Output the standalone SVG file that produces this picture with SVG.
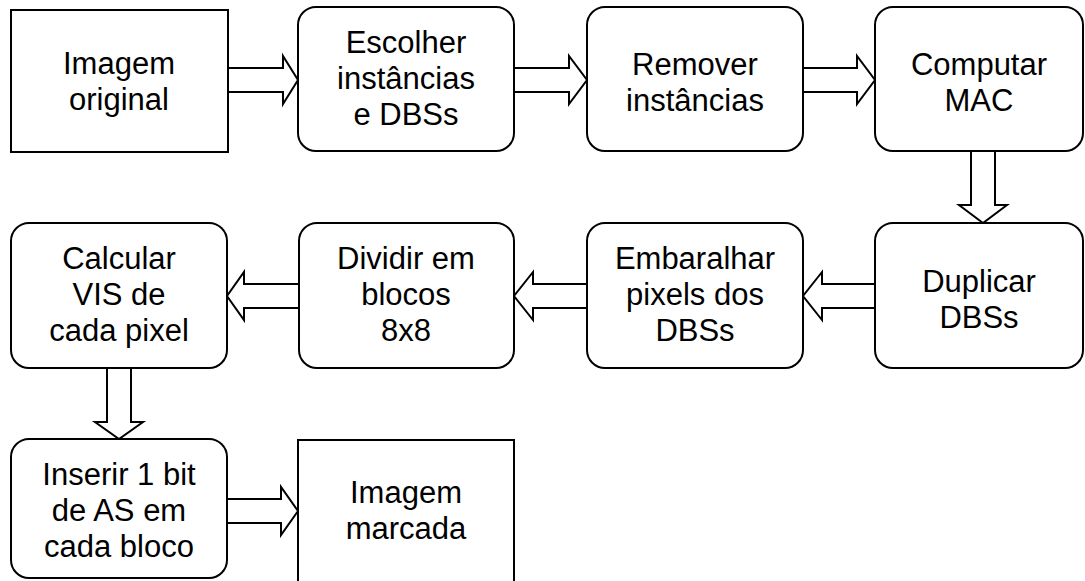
<svg xmlns="http://www.w3.org/2000/svg" width="1085" height="581" viewBox="0 0 1085 581">
<style>
.box{fill:#fff;stroke:#000;stroke-width:2}
.arr{fill:#fff;stroke:#000;stroke-width:2;stroke-linejoin:miter}
text{font-family:"Liberation Sans",Arial,sans-serif;font-size:31px;fill:#000;text-anchor:middle}
</style>
<rect width="1085" height="581" fill="#fff"/>
<g id="connectors">
<polygon class="arr" points="228,68 283,68 283,56 298,80 283,104 283,92 228,92"/>
<polygon class="arr" points="514,68 569,68 569,56 587,80 569,104 569,92 514,92"/>
<polygon class="arr" points="803,68 857,68 857,56 875,80 857,104 857,92 803,92"/>
<polygon class="arr" points="971,151 971,205 959,205 983,223 1007,205 995,205 995,151"/>
<polygon class="arr" points="875,284 822,284 822,272 803,296 822,320 822,308 875,308"/>
<polygon class="arr" points="587,284 533,284 533,272 514,296 533,320 533,308 587,308"/>
<polygon class="arr" points="299,284 244,284 244,272 227,296 244,320 244,308 299,308"/>
<polygon class="arr" points="107,368 107,422 95,422 119,439 143,422 131,422 131,368"/>
<polygon class="arr" points="227,499 281,499 281,487 298,511 281,535 281,523 227,523"/>
</g>
<g id="n1"><rect class="box" x="11" y="10" width="217" height="142"/><text x="119" y="74">Imagem</text><text x="119" y="110">original</text></g>
<g id="n2"><rect class="box" x="298" y="7" width="216" height="144" rx="18"/><text x="406" y="53">Escolher</text><text x="406" y="89">instâncias</text><text x="406" y="125">e DBSs</text></g>
<g id="n3"><rect class="box" x="587" y="7" width="216" height="144" rx="18"/><text x="695" y="75">Remover</text><text x="695" y="111">instâncias</text></g>
<g id="n4"><rect class="box" x="875" y="7" width="208" height="144" rx="18"/><text x="979" y="75">Computar</text><text x="979" y="111">MAC</text></g>
<g id="n5"><rect class="box" x="875" y="223" width="208" height="145" rx="18"/><text x="979" y="292">Duplicar</text><text x="979" y="328">DBSs</text></g>
<g id="n6"><rect class="box" x="587" y="223" width="216" height="145" rx="18"/><text x="695" y="269">Embaralhar</text><text x="695" y="305">pixels dos</text><text x="695" y="341">DBSs</text></g>
<g id="n7"><rect class="box" x="299" y="223" width="215" height="145" rx="18"/><text x="406" y="269">Dividir em</text><text x="406" y="305">blocos</text><text x="406" y="341">8x8</text></g>
<g id="n8"><rect class="box" x="11" y="223" width="216" height="145" rx="18"/><text x="119" y="269">Calcular</text><text x="119" y="305">VIS de</text><text x="119" y="341">cada pixel</text></g>
<g id="n9"><rect class="box" x="11" y="439" width="216" height="139" rx="18"/><text x="119" y="485">Inserir 1 bit</text><text x="119" y="521">de AS em</text><text x="119" y="557">cada bloco</text></g>
<g id="n10"><rect class="box" x="298" y="440" width="216" height="150"/><text x="406" y="503">Imagem</text><text x="406" y="539">marcada</text></g>
</svg>
